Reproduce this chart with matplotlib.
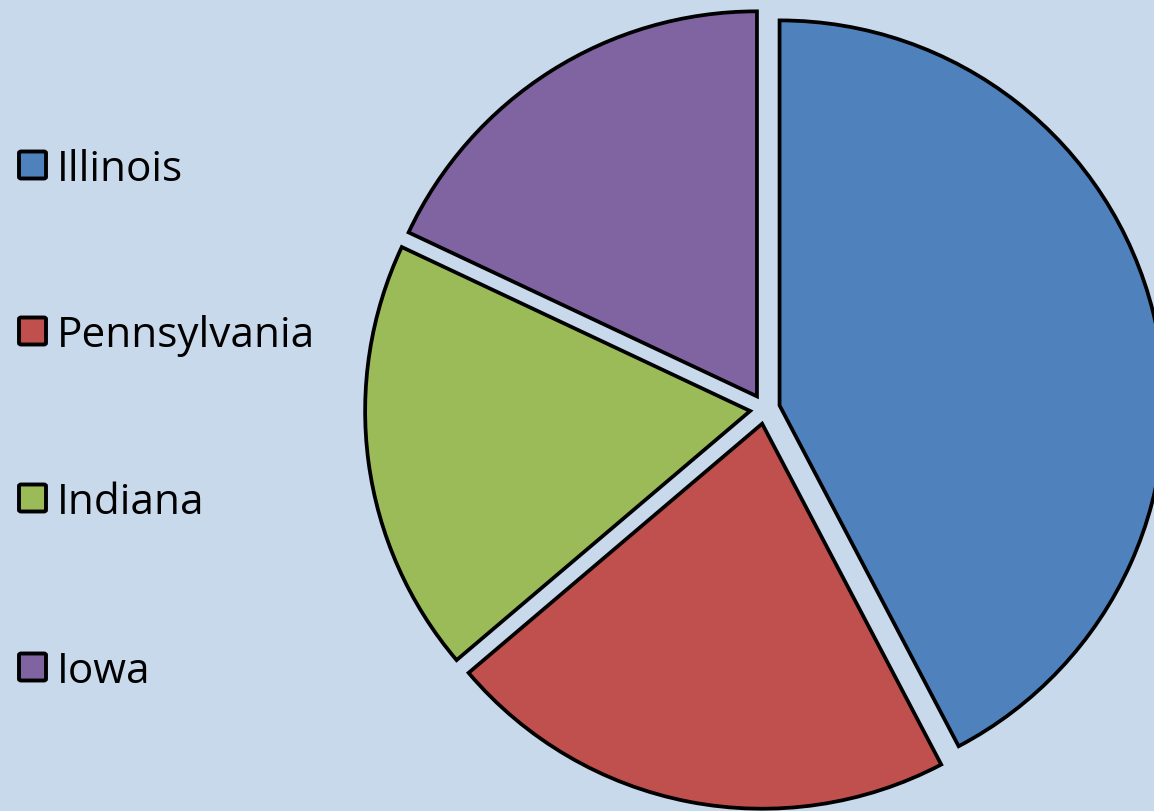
import matplotlib
matplotlib.use("Agg")
import matplotlib.pyplot as plt
from matplotlib.patches import FancyBboxPatch

labels = ["Illinois", "Pennsylvania", "Indiana", "Iowa"]
values = [42.3, 21.5, 18.2, 18.0]
colors = ["#4F81BD", "#C0504D", "#9BBB59", "#8064A2"]
bg = "#C9D9EC"

W, H = 1154, 811
fig = plt.figure(figsize=(W / 100, H / 100), dpi=100, facecolor=bg)
ax = fig.add_axes([0, 0, 1, 1])
ax.set_facecolor(bg)

# pixel mapping: pie center at px (765, 409 from top), radius 385 px
s = 385.0
cx, cy = 765, 409

ax.pie(values, colors=colors, startangle=90, counterclock=False,
       explode=[15 / s] * len(values), radius=1.0,
       wedgeprops=dict(edgecolor="black", linewidth=2.7, joinstyle="miter"))
ax.set_aspect("auto")
ax.set_xlim(-cx / s, (W - cx) / s)
ax.set_ylim(-(H - cy) / s, cy / s)
ax.axis("off")

# manual legend
ys = [165, 331, 498, 667]
fs = 24
renderer = fig.canvas.get_renderer()
t = fig.text(0, 0, "Pennsylvania", fontsize=fs, family="Open Sans")
w = t.get_window_extent(renderer).width
t.remove()
fs = fs * 258 / w

for lab, col, y in zip(labels, colors, ys):
    sq = 27
    box = FancyBboxPatch((19 / W, (H - y - sq / 2) / H), sq / W, sq / H,
                         boxstyle="round,pad=0,rounding_size=0.002",
                         transform=fig.transFigure, facecolor=col,
                         edgecolor="black", linewidth=2.8)
    fig.patches.append(box)
    fig.text(57 / W, (H - y) / H, lab, fontsize=fs, family="Open Sans",
             va="center_baseline", ha="left", color="black")

fig.savefig("out.png", dpi=100, facecolor=bg)
